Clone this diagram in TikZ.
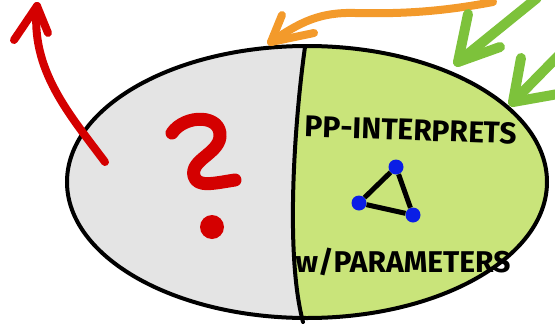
\documentclass[tikz,border=0pt]{standalone}
\usepackage{fontspec}
\usepackage{tikz}
\usetikzlibrary{positioning, calc}
\newfontfamily\handfont{Fira Sans}
\definecolor{ashgray}{HTML}{E4E4E4}
\definecolor{leafgreen}{HTML}{C9E47A}
\definecolor{markred}{HTML}{D40000}
\definecolor{markorange}{HTML}{F39A2B}
\definecolor{markgreen}{HTML}{7DC23B}
\definecolor{dotblue}{HTML}{0A1EE6}
\tikzset{
  redpen/.style={draw=markred, line width=8pt, line cap=round, line join=round},
  orangepen/.style={draw=markorange, line width=8pt, line cap=round, line join=round},
  greenpen/.style={draw=markgreen, line width=10pt, line cap=round, line join=round},
  vertex/.style={circle, fill=dotblue, inner sep=0pt, minimum size=15pt},
  label text/.style={font=\handfont\bfseries\fontsize{30}{31}\selectfont, inner sep=0pt}
}

\begin{document}
\begin{tikzpicture}[x=1pt, y=-1pt]
  \useasboundingbox (0,0) rectangle (555,327);

  % the two halves of the ellipse
  \begin{scope}
    \clip (307,182) ellipse [x radius=240, y radius=136];
    \fill[ashgray] (0,0) rectangle (555,327);
    \fill[leafgreen] (305,47) .. controls (296,110) and (284,250) .. (303,322)
      -- (560,330) -- (560,40) -- cycle;
  \end{scope}
  \draw[line width=4pt] (307,182) ellipse [x radius=240, y radius=136];
  \draw[line width=4pt, line cap=round] (305,47) .. controls (296,110) and (284,250) .. (303,322);

  % question mark
  \draw[redpen, line width=13pt] (172,133) .. controls (185,114) and (222,114) .. (220,137)
    .. controls (218,154) and (190,160) .. (194,176)
    .. controls (197,188) and (215,183) .. (235,180);
  \fill[markred] (212,227) circle [radius=12];

  % red arrow out of the left half
  \coordinate (redtail) at (105,162);
  \coordinate (redtip) at (37,6);
  \draw[redpen] (redtail) .. controls (70,115) and (30,70) .. (redtip);
  \draw[redpen] (14,40) -- (redtip) -- (48,33);

  % orange arrow onto the top
  \coordinate (orangetail) at (493,2);
  \coordinate (orangetip) at (271,42);
  \draw[orangepen] (orangetail) .. controls (440,12) and (400,14) .. (355,13)
    .. controls (320,12) and (300,22) .. (orangetip);
  \draw[orangepen] (282,15) -- (orangetip) -- (314,33);

  % green arrows onto the right half
  \coordinate (greentailA) at (537,-2);
  \coordinate (greentipA) at (458,62);
  \draw[greenpen] (greentailA) -- (greentipA);
  \draw[greenpen] (468,14) -- (greentipA) -- (500,47);
  \coordinate (greentailB) at (562,52);
  \coordinate (greentipB) at (513,102);
  \draw[greenpen] (greentailB) -- (greentipB);
  \draw[greenpen] (521,58) -- (greentipB) -- (558,94);

  % texts
  \node[label text, rotate=-2] (interp) at (411,130) {PP-INTERPRETS};
  \node[label text] (params) at (403,262) {w/PARAMETERS};

  % triangle
  \node[vertex] (top) at (396,167) {};
  \node[vertex] (left) at (359,203) {};
  \node[vertex] (right) at (413,215) {};
  \draw[line width=5pt] (top) -- (left) -- (right) -- (top);
\end{tikzpicture}
\end{document}
